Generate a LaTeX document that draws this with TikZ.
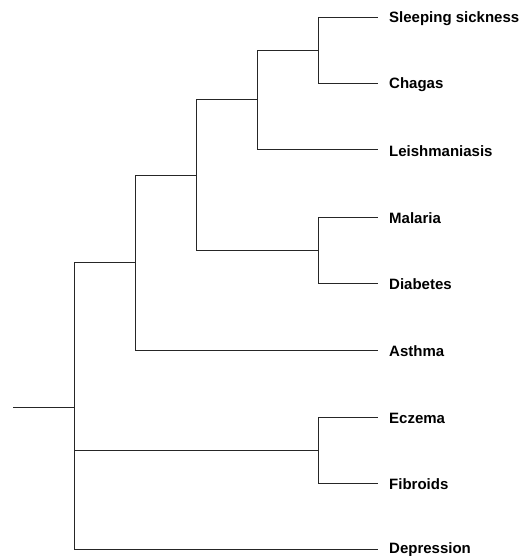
\documentclass[tikz,border=0pt]{standalone}
\usepackage{fontspec}
\setmainfont{Liberation Sans}
\tikzset{
  branch/.style={line width=1pt, color=black!85},
  leaf/.style={anchor=west, inner xsep=11pt, inner ysep=0pt, yshift=-1pt, font=\bfseries\fontsize{15}{15}\selectfont}
}
\begin{document}
\begin{tikzpicture}[x=1pt,y=-1pt]
    \useasboundingbox (0,0) rectangle (523,556);
    % Hojas del arbol
    \foreach \name/\y/\txt in {ss/18/Sleeping sickness, chagas/84/Chagas, leish/150/Leishmaniasis,
        malaria/217/Malaria, diabetes/283/Diabetes, asthma/350/Asthma,
        eczema/417/Eczema, fibroids/483/Fibroids, depression/549/Depression} {
        \node[leaf] (\name) at (378,\y) {\txt};
    }
    % Nodos internos
    \coordinate (n1) at (318,51);
    \coordinate (n2) at (257,100);
    \coordinate (n3) at (318,250);
    \coordinate (n4) at (196,175);
    \coordinate (n5) at (135,262);
    \coordinate (n6) at (318,450);
    \coordinate (n7) at (74,407);
    \coordinate (start) at (13,407);
    \draw[branch] (n1) |- ([yshift=1pt]ss.west) (n1) |- ([yshift=1pt]chagas.west);
    \draw[branch] (n2) |- (n1) (n2) |- ([yshift=1pt]leish.west);
    \draw[branch] (n3) |- ([yshift=1pt]malaria.west) (n3) |- ([yshift=1pt]diabetes.west);
    \draw[branch] (n4) |- (n2) (n4) |- (n3);
    \draw[branch] (n5) |- (n4) (n5) |- ([yshift=1pt]asthma.west);
    \draw[branch] (n6) |- ([yshift=1pt]eczema.west) (n6) |- ([yshift=1pt]fibroids.west);
    \draw[branch] (n7) |- (n5) (n7) |- (n6) (n7) |- ([yshift=1pt]depression.west);
    \draw[branch] (start) -- (n7);
\end{tikzpicture}
\end{document}
